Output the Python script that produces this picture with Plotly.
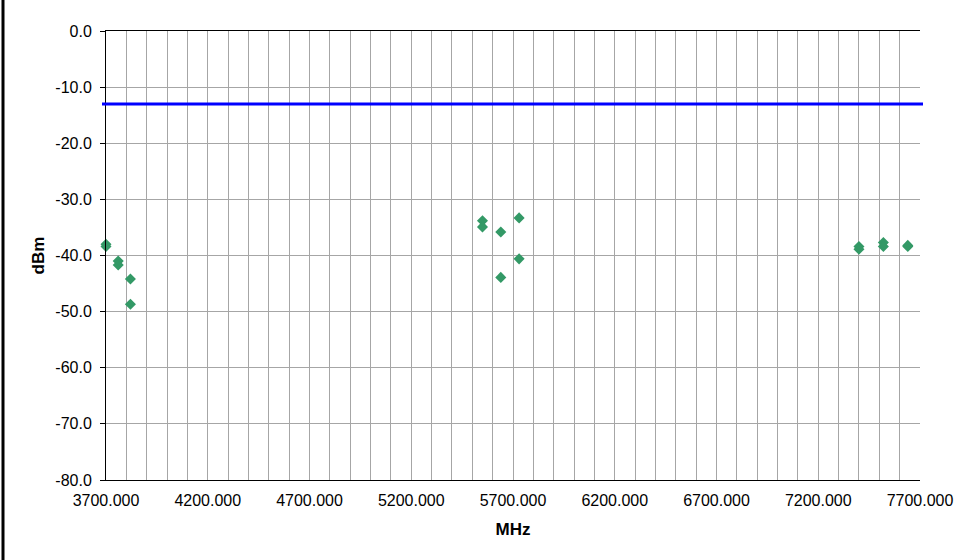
import plotly.graph_objects as go

# Data
freq_mhz = [3700, 3700, 3760, 3760, 3820, 3820,
            5550, 5550, 5640, 5640, 5730, 5730,
            7400, 7400, 7520, 7520, 7640, 7640]
level_dbm = [-38.0, -38.4, -41.0, -41.7, -44.2, -48.7,
             -33.8, -34.9, -35.8, -43.9, -33.3, -40.6,
             -38.4, -38.9, -37.7, -38.4, -38.2, -38.4]
limit_dbm = -13.0

x_ticks = [3700, 4200, 4700, 5200, 5700, 6200, 6700, 7200, 7700]
y_ticks = [0, -10, -20, -30, -40, -50, -60, -70, -80]

W, H = 972, 560
ML, MR, MT, MB = 106, 52, 31, 80
pw = W - ML - MR
ph = H - MT - MB

FONT = "Liberation Sans, Arial, sans-serif"

fig = go.Figure()
fig.add_trace(go.Scatter(
    x=freq_mhz, y=level_dbm, mode="markers",
    marker=dict(symbol="diamond", size=8.5, color="#339966",
                line=dict(width=0)),
    cliponaxis=False, showlegend=False,
))

# limit line (extends slightly past the plot area like the original)
fig.add_shape(type="line", xref="paper", yref="y",
              x0=(102 - ML) / pw, x1=(923 - ML) / pw,
              y0=limit_dbm, y1=limit_dbm,
              line=dict(color="#0000FF", width=3), layer="above")

# left frame edge of the chart
fig.add_shape(type="line", xref="paper", yref="paper",
              x0=(3 - ML) / pw, x1=(3 - ML) / pw,
              y0=(MT + ph - H) / ph, y1=(MT + ph) / ph,
              line=dict(color="black", width=3))

grid = "#A6A6A6"
fig.update_layout(
    width=W, height=H,
    margin=dict(l=ML, r=MR, t=MT, b=MB, pad=0),
    paper_bgcolor="white", plot_bgcolor="white",
    font=dict(family=FONT, size=16, color="black"),
    xaxis=dict(
        range=[3700, 7700], tickvals=x_ticks,
        ticktext=[f"{v:.3f}" for v in x_ticks],
        tickfont=dict(size=16), ticklabelstandoff=6,
        showgrid=True, gridcolor=grid, gridwidth=1,
        minor=dict(dtick=100, showgrid=True, gridcolor=grid, gridwidth=1),
        showline=True, linecolor="black", linewidth=1, mirror=True,
        ticks="", zeroline=False,
        title=dict(text="<b>MHz</b>", font=dict(size=17), standoff=14),
    ),
    yaxis=dict(
        range=[-80, 0], tickvals=y_ticks,
        ticktext=[f"{v:.1f}" for v in y_ticks],
        tickfont=dict(size=16), ticklabelstandoff=5,
        showgrid=True, gridcolor=grid, gridwidth=1,
        showline=True, linecolor="black", linewidth=1,
        ticks="outside", ticklen=5, tickcolor="black",
        zeroline=False,
        title=dict(text="<b>dBm</b>", font=dict(size=17), standoff=6),
    ),
)

fig.write_html("out.html")
